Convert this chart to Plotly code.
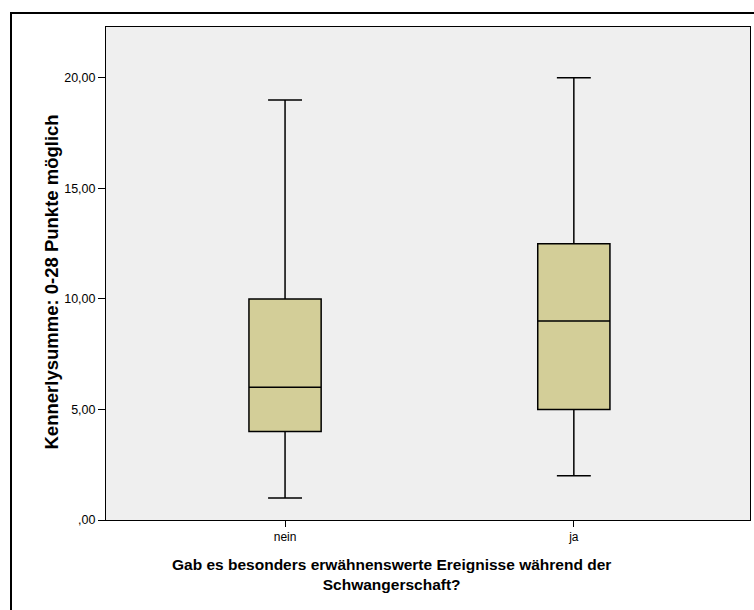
import plotly.graph_objects as go

categories = ["nein", "ja"]
lower_whisker = [1, 2]
q1_values = [4, 5]
median_values = [6, 9]
q3_values = [10, 12.5]
upper_whisker = [19, 20]

y_tick_vals = [0, 5, 10, 15, 20]
y_tick_text = [",00", "5,00", "10,00", "15,00", "20,00"]

y_title = "Kennerlysumme: 0-28 Punkte möglich"
x_title_lines = ["Gab es besonders erwähnenswerte Ereignisse während der", "Schwangerschaft?"]

FONT = "Liberation Sans, Arial, sans-serif"

L, R, T, B = 106, 4, 27, 90
W, H = 754, 610
PW, PH = W - L - R, H - T - B


def px_x(p):
    return (p - L) / PW


def px_y(p):
    return (H - B - p) / PH


fig = go.Figure()
fig.add_trace(go.Box(
    x=categories,
    q1=q1_values,
    median=median_values,
    q3=q3_values,
    lowerfence=lower_whisker,
    upperfence=upper_whisker,
    fillcolor="#D3CE98",
    line=dict(color="black", width=1.5),
    whiskerwidth=0.47,
    width=0.25,
    boxpoints=False,
    hoverinfo="skip",
    showlegend=False,
))

annotations = [
    dict(
        text="<b>" + y_title + "</b>",
        xref="paper", yref="paper",
        x=px_x(51), y=px_y(282.5),
        xanchor="center", yanchor="middle", textangle=-90,
        showarrow=False, font=dict(family=FONT, size=18.5),
    ),
    dict(
        text="<b>" + "<br>".join(x_title_lines) + "</b>",
        xref="paper", yref="paper",
        x=px_x(391), y=px_y(574),
        xanchor="center", yanchor="middle", align="center",
        showarrow=False, font=dict(family=FONT, size=15.5),
    ),
]

fig.update_layout(
    width=W, height=H,
    autosize=False,
    margin=dict(l=L, r=R, t=T, b=B),
    paper_bgcolor="white",
    plot_bgcolor="#EFEFEF",
    font=dict(family=FONT, size=12, color="black"),
    xaxis=dict(
        range=[-0.62, 1.61],
        showline=True, mirror=True, linecolor="black", linewidth=1,
        showgrid=False, zeroline=False,
        ticks="outside", ticklen=6, tickcolor="black",
        tickfont=dict(family=FONT, size=12),
        fixedrange=True,
    ),
    yaxis=dict(
        range=[0, 22.3],
        tickvals=y_tick_vals, ticktext=y_tick_text,
        showline=True, mirror=True, linecolor="black", linewidth=1,
        showgrid=False, zeroline=False,
        ticks="outside", ticklen=7, tickcolor="black",
        tickfont=dict(family=FONT, size=12.5),
        fixedrange=True,
    ),
    annotations=annotations,
    shapes=[dict(
        type="rect", xref="paper", yref="paper",
        x0=px_x(11), x1=1.2,
        y0=-0.5, y1=px_y(13),
        line=dict(color="black", width=2),
        fillcolor="rgba(0,0,0,0)", layer="above",
    )],
)

fig.write_html(
    "out.html",
    config={"responsive": False, "displayModeBar": False},
    post_script="document.body.style.margin='0';document.body.style.overflow='hidden';",
)
